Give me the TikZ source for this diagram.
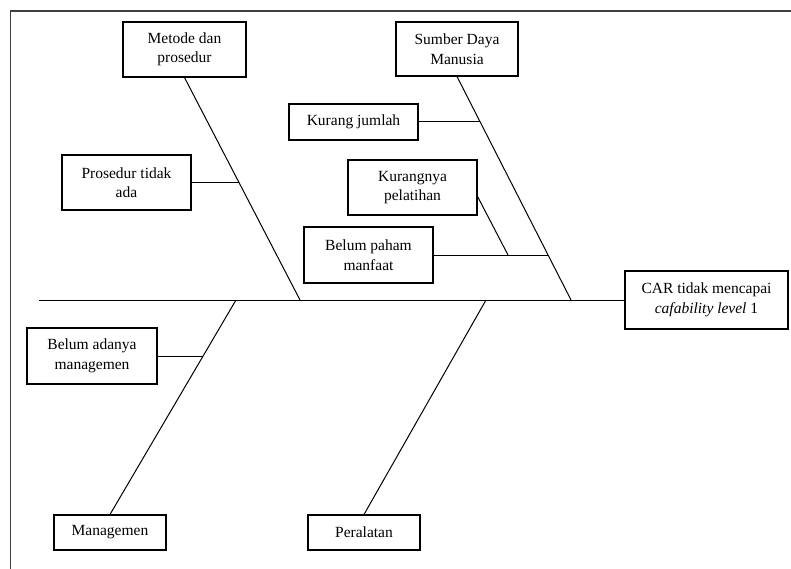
\documentclass[tikz,border=0pt]{standalone}
\usepackage{fontspec}
\setmainfont{Liberation Serif}
\usetikzlibrary{positioning,calc}

\begin{document}
\begin{tikzpicture}[
    x=1pt, y=-1pt,
    cause/.style = {draw, line width=1.1pt, align=center, inner sep=0pt,
                    font=\fontsize{15.5}{19.5}\selectfont},
    bone/.style = {line width=1pt}
  ]
  \useasboundingbox (0,0) rectangle (791,569);
  \draw[line width=1.2pt, black!75] (10.5,569) -- (10.5,11) -- (791,11);

  % effect and main causes
  \node[cause, minimum width=163pt, minimum height=58pt] (car) at (706.5,300)
    {CAR tidak mencapai\\\textit{cafability level} 1};
  \node[cause, minimum width=123pt, minimum height=55pt] (metode) at (184.5,49.5) {Metode dan\\prosedur};
  \node[cause, minimum width=122pt, minimum height=54pt] (sdm) at (457,49) {Sumber Daya\\Manusia};
  \node[cause, minimum width=112pt, minimum height=35pt] (managemen) at (110,532.5) {Managemen};
  \node[cause, minimum width=112pt, minimum height=35pt] (peralatan) at (364,532.5) {Peralatan};

  % sub causes
  \node[cause, minimum width=129pt, minimum height=55pt] (prosedur) at (126.5,182.5) {Prosedur tidak\\ada};
  \node[cause, minimum width=129pt, minimum height=36pt] (jumlah) at (353.5,122) {Kurang jumlah};
  \node[cause, minimum width=129pt, minimum height=55pt] (pelatihan) at (412.5,187.5) {Kurangnya\\pelatihan};
  \node[cause, minimum width=129pt, minimum height=56pt] (paham) at (368.5,255) {Belum paham\\manfaat};
  \node[cause, minimum width=130pt, minimum height=56pt] (adanya) at (92,356) {Belum adanya\\managemen};

  % spine and bones
  \coordinate (tail) at (39,300);
  \coordinate (jm) at (300,300);
  \coordinate (js) at (571,300);
  \coordinate (jg) at (236,300);
  \coordinate (jp) at (486,300);

  \draw[bone] (tail) -- (car.west);
  \draw[bone] (metode.south) -- (jm);
  \draw[bone] (sdm.south) -- (js);
  \draw[bone] (managemen.north) -- (jg);
  \draw[bone] (peralatan.north) -- (jp);

  \coordinate (bp) at ($(metode.south)!0.473!(jm)$);
  \coordinate (bj) at ($(sdm.south)!0.205!(js)$);
  \coordinate (bm) at ($(sdm.south)!0.799!(js)$);
  \coordinate (ba) at ($(managemen.north)!0.74!(jg)$);
  \coordinate (kp) at (508,255);

  \draw[bone] (prosedur.east) -- (prosedur.east -| bp);
  \draw[bone] (jumlah.east) -- (jumlah.east -| bj);
  \draw[bone] (paham.east) -- (paham.east -| bm);
  \draw[bone] ([yshift=-9pt]pelatihan.east) -- (kp);
  \draw[bone] (adanya.east) -- (adanya.east -| ba);
\end{tikzpicture}
\end{document}
